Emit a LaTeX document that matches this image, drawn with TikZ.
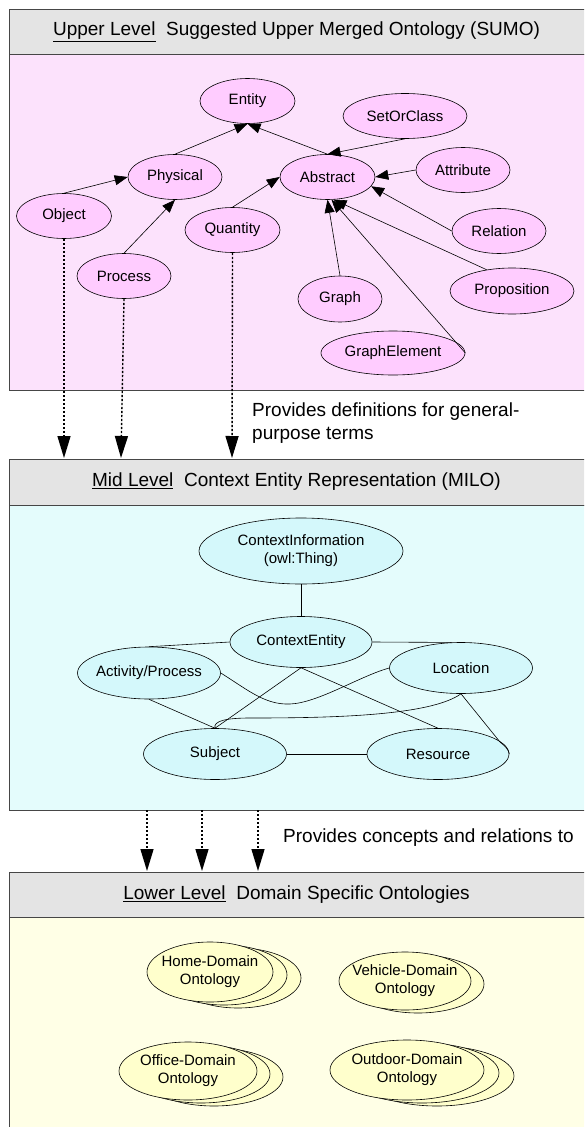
\documentclass[tikz,border=0pt]{standalone}
\usepackage{fontspec}
\setmainfont{Liberation Sans}
\usetikzlibrary{shapes.geometric,arrows.meta}

\definecolor{hdrgray}{RGB}{228,228,228}
\definecolor{framegray}{RGB}{70,70,70}
\definecolor{upperbg}{RGB}{252,226,252}
\definecolor{uppernode}{RGB}{255,204,255}
\definecolor{midbg}{RGB}{228,252,252}
\definecolor{midnode}{RGB}{212,248,251}
\definecolor{lowbg}{RGB}{255,255,230}
\definecolor{lownode}{RGB}{255,255,204}

\begin{document}
\begin{tikzpicture}[x=1pt,y=-1pt,
  hdr/.style={draw=framegray, fill=hdrgray, line width=0.9pt},
  panel/.style={draw=framegray, line width=0.9pt},
  hdrtext/.style={font=\fontsize{19}{22}\selectfont, inner sep=0pt},
  note/.style={font=\fontsize{19}{23}\selectfont, align=left, anchor=west, inner sep=0pt},
  onode/.style={ellipse, draw, line width=0.6pt, inner xsep=-12pt, inner ysep=0pt,
                font=\fontsize{15}{18}\selectfont, align=center},
  unode/.style={onode, fill=uppernode, minimum height=45pt},
  mnode/.style={onode, fill=midnode, minimum height=51pt},
  lnode/.style={onode, fill=lownode},
  isa/.style={line width=0.6pt, -{Triangle[length=13pt,width=10pt]}},
  link/.style={line width=0.6pt},
  feeds/.style={line width=1.4pt, dash pattern=on 2.4pt off 1.6pt,
                -{Triangle[length=22pt,width=13pt]}},
]
\useasboundingbox (0,0) rectangle (584,1127);
\clip (0,0) rectangle (584,1127);
\fill[white] (0,0) rectangle (584,1127);

% ---------- upper level ----------
\draw[hdr] (9,9) rectangle (600,54);
\draw[panel, fill=upperbg] (9,54) rectangle (600,390);
\node[hdrtext] (uh) at (296.5,31.5)
  {\underline{Upper Level}\ \ Suggested Upper Merged Ontology (SUMO)};

\node[unode, minimum width=95pt]  (entity) at (247.5,101) {Entity};
\node[unode, minimum width=94pt]  (phys)   at (175,177)   {Physical};
\node[unode, minimum width=95pt]  (obj)    at (64,216)    {Object};
\node[unode, minimum width=94pt]  (proc)   at (124,276)   {Process};
\node[unode, minimum width=95pt]  (quant)  at (232.5,230) {Quantity};
\node[unode, minimum width=95pt]  (abs)    at (327.5,177) {Abstract};
\node[unode, minimum width=124pt] (soc)    at (405,116)   {SetOrClass};
\node[unode, minimum width=94pt]  (attr)   at (463,170)   {Attribute};
\node[unode, minimum width=94pt]  (rel)    at (499,231)   {Relation};
\node[unode, minimum width=124pt, minimum height=46pt] (prop) at (512,291) {Proposition};
\node[unode, minimum width=84pt, minimum height=46pt]  (graph) at (340,299) {Graph};
\node[unode, minimum width=144pt, minimum height=44pt] (ge)    at (393,353) {GraphElement};

\draw[isa] (phys.north) -- (entity.south);
\draw[isa] (abs.north) -- (entity.south);
\draw[isa] (obj.north) -- (phys.west);
\draw[isa] (proc.north) -- (phys.south);
\draw[isa] (quant.north) -- (abs.west);
\draw[isa] (soc.south) -- (abs.north);
\draw[isa] (attr.west) -- (abs.east);
\draw[isa] (rel.west) -- (abs.-12);
\draw[isa] (prop.140) -- (abs.-75);
\draw[isa] (graph.north) -- (abs.south);
\draw[isa] (ge.east) -- (abs.-80);

% ---------- upper to mid ----------
\coordinate (t1) at (64,458);
\coordinate (t2) at (121,458);
\coordinate (t3) at (232,458);
\draw[feeds] (obj.south) -- (t1);
\draw[feeds] (proc.south) -- (t2);
\draw[feeds] (quant.south) -- (t3);
\node[note] (n1) at (252,423.5) {Provides definitions for general-\\purpose terms};

% ---------- mid level ----------
\draw[hdr] (9,459) rectangle (600,505);
\draw[panel, fill=midbg] (9,505) rectangle (600,810);
\node[hdrtext] (mh) at (296.5,482)
  {\underline{Mid Level}\ \ Context Entity Representation (MILO)};

\node[mnode, minimum width=204pt, minimum height=66pt] (ci) at (301,551)
  {ContextInformation\\(owl:Thing)};
\node[mnode, minimum width=142pt] (ce)  at (301,642) {ContextEntity};
\node[mnode, minimum width=143pt, minimum height=52pt] (act) at (149,673) {Activity/Process};
\node[mnode, minimum width=143pt] (loc) at (461,668) {Location};
\node[mnode, minimum width=143pt] (sub) at (215,754) {Subject};
\node[mnode, minimum width=142pt] (res) at (438,754) {Resource};

\draw[link] (ci) -- (ce);
\draw[link] (ce.west) -- (act.north);
\draw[link] (ce.east) -- (loc.110);
\draw[link] (ce.south) -- (sub.north);
\draw[link] (ce.south) -- (res.north);
\draw[link] (act.south) -- (sub.north);
\draw[link] (sub.east) -- (res.west);
\draw[link] (act.east) .. controls (248,690) and (265,705) .. (290,704)
                       .. controls (318,703) and (360,676) .. (loc.west);
\draw[link] (loc.south) .. controls (430,716) and (330,718) .. (250,718)
                        .. controls (226,718) and (213,721) .. (sub.north);
\draw[link] (loc.south) -- (500,742) .. controls (505,746) and (509,750) .. (res.east);

% ---------- mid to lower ----------
\coordinate (s1) at (147,810);
\coordinate (s2) at (202,810);
\coordinate (s3) at (258,810);
\coordinate (e1) at (147,871);
\coordinate (e2) at (202,871);
\coordinate (e3) at (258,871);
\draw[feeds] (s1) -- (e1);
\draw[feeds] (s2) -- (e2);
\draw[feeds] (s3) -- (e3);
\node[note] (n2) at (283,838) {Provides concepts and relations to};

% ---------- lower level ----------
\draw[hdr] (9,872) rectangle (600,917);
\draw[panel, fill=lowbg] (9,917) rectangle (600,1140);
\node[hdrtext] (lh) at (296.5,895)
  {\underline{Lower Level}\ \ Domain Specific Ontologies};

% stacked domain ontologies: copies behind, front one last
\node[lnode, minimum width=126pt, minimum height=60pt] (home3) at (238,978) {};
\node[lnode, minimum width=126pt, minimum height=60pt] (home2) at (224,975) {};
\node[lnode, minimum width=126pt, minimum height=60pt] (home)  at (210,972) {Home-Domain\\Ontology};

\node[lnode, minimum width=132pt, minimum height=58pt] (veh2) at (418,984) {};
\node[lnode, minimum width=132pt, minimum height=58pt] (veh)  at (405,981) {Vehicle-Domain\\Ontology};

\node[lnode, minimum width=138pt, minimum height=58pt] (off3) at (214,1077) {};
\node[lnode, minimum width=138pt, minimum height=58pt] (off2) at (201,1074) {};
\node[lnode, minimum width=138pt, minimum height=58pt] (off)  at (188,1071) {Office-Domain\\Ontology};

\node[lnode, minimum width=154pt, minimum height=60pt] (out3) at (437,1076) {};
\node[lnode, minimum width=154pt, minimum height=60pt] (out2) at (422,1073) {};
\node[lnode, minimum width=154pt, minimum height=60pt] (out)  at (407,1070) {Outdoor-Domain\\Ontology};
\end{tikzpicture}
\end{document}
